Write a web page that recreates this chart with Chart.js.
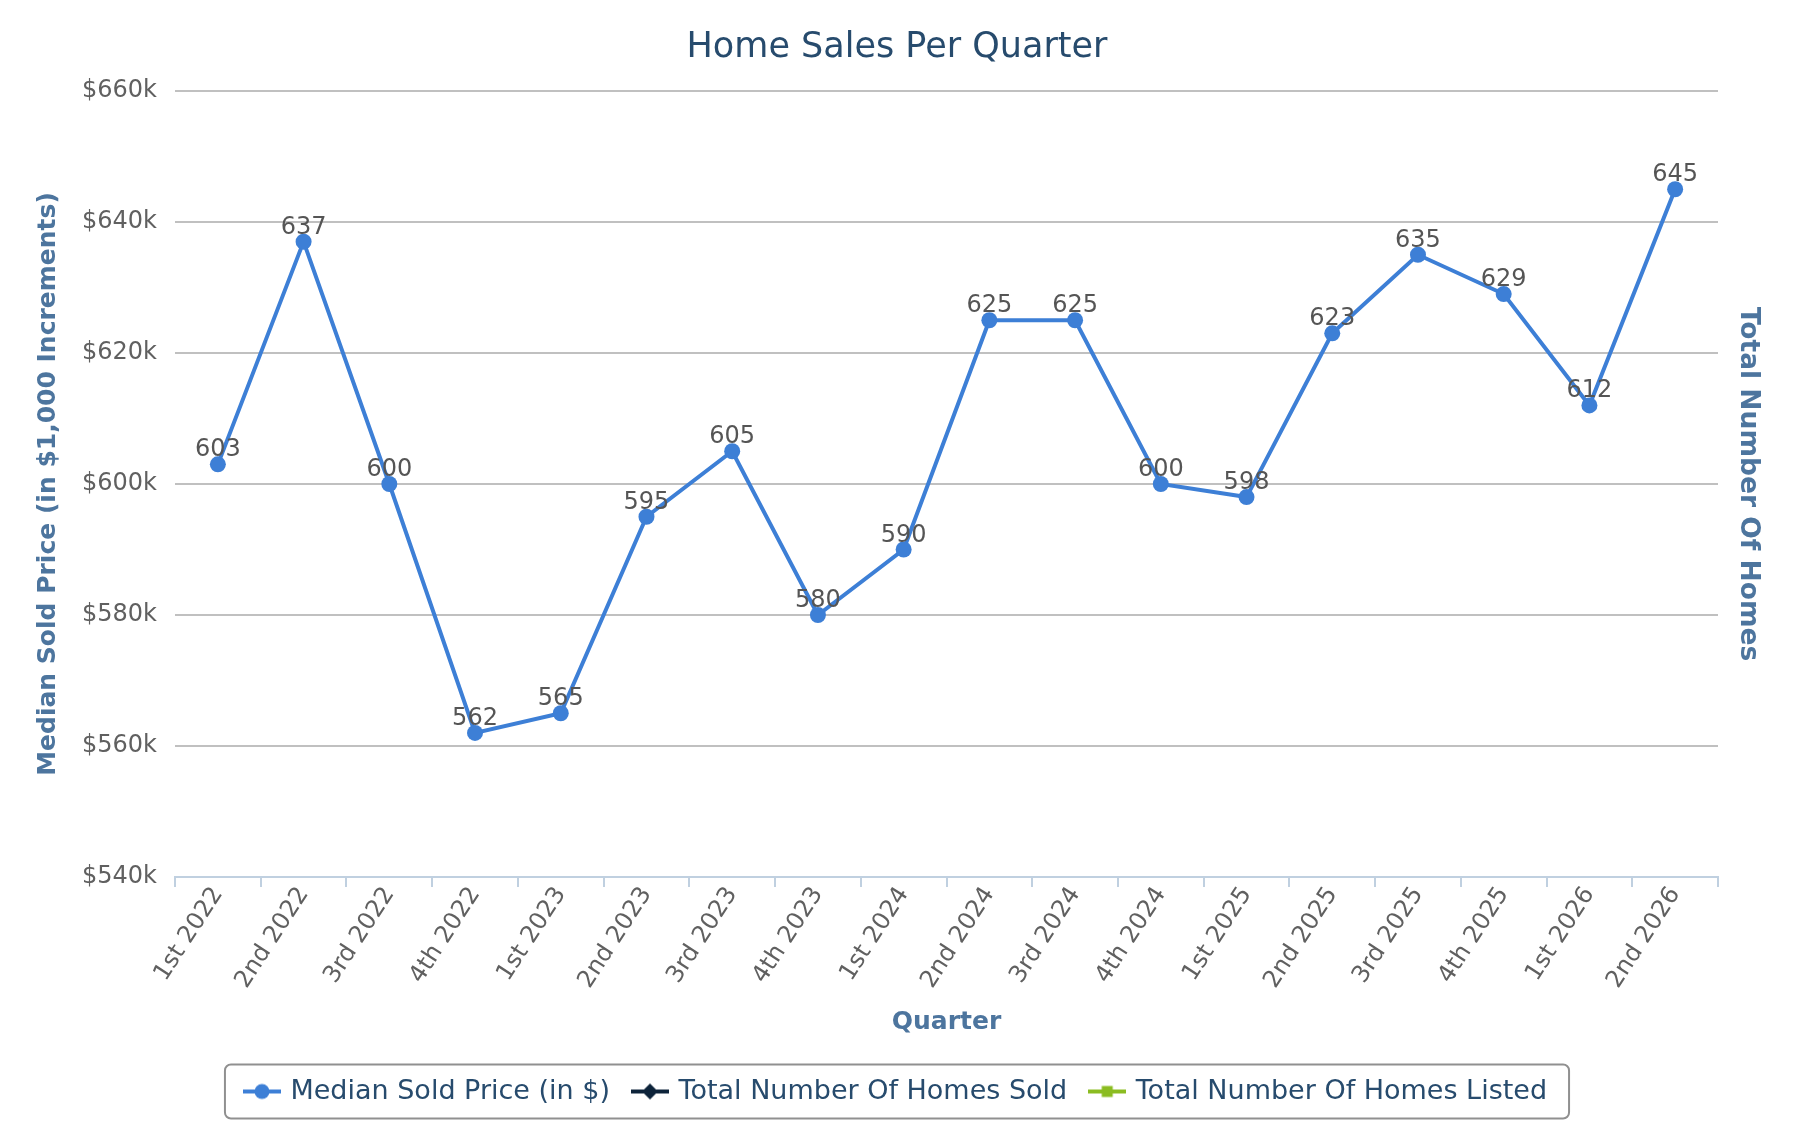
<!DOCTYPE html>
<html lang="en">
<head>
    <meta charset="UTF-8">
    <title>Home Sales Per Quarter</title>
    <script src="https://cdn.jsdelivr.net/npm/chart.js"></script>
    <style>
        body { margin: 0; background: #fff; }
        #wrap { width: 1794px; height: 1146px; }
    </style>
</head>
<body>
    <div id="wrap"><canvas id="salesChart"></canvas></div>

    <script>
        // quarters on the x axis
        const quarters = [
            "1st 2022", "2nd 2022", "3rd 2022", "4th 2022",
            "1st 2023", "2nd 2023", "3rd 2023", "4th 2023",
            "1st 2024", "2nd 2024", "3rd 2024", "4th 2024",
            "1st 2025", "2nd 2025", "3rd 2025", "4th 2025",
            "1st 2026", "2nd 2026"
        ];

        // median sold price, in $1,000
        const medianPrice = [603, 637, 600, 562, 565, 595, 605, 580, 590, 625, 625, 600, 598, 623, 635, 629, 612, 645];

        // these two have no points in the chart, only legend entries
        const homesSold = [];
        const homesListed = [];

        const priceTicks = { min: 540, max: 660, step: 20 };

        const FONT = "'DejaVu Sans', sans-serif";
        const BLUE = "#3d7fd6";
        const NAVY = "#0d233a";
        const GREEN = "#8bbc21";

        // small canvas used as legend symbol: line with a marker in the middle
        function legendSymbol(color, shape) {
            const c = document.createElement("canvas");
            c.width = 38; c.height = 20;
            const g = c.getContext("2d");
            g.strokeStyle = color;
            g.fillStyle = color;
            g.lineWidth = 4;
            g.beginPath();
            g.moveTo(0, 10); g.lineTo(38, 10);
            g.stroke();
            g.beginPath();
            if (shape === "circle") {
                g.arc(19, 10, 7.5, 0, Math.PI * 2);
            } else if (shape === "diamond") {
                g.moveTo(19, 2); g.lineTo(27, 10); g.lineTo(19, 18); g.lineTo(11, 10);
                g.closePath();
            } else {
                g.rect(13.5, 4.5, 11, 11);
            }
            g.fill();
            return c;
        }

        // value labels above each point
        const pointLabels = {
            id: "pointLabels",
            afterDatasetsDraw(chart) {
                const ctx = chart.ctx;
                const meta = chart.getDatasetMeta(0);
                ctx.save();
                ctx.font = "24px " + FONT;
                ctx.fillStyle = "#555555";
                ctx.textAlign = "center";
                ctx.textBaseline = "alphabetic";
                meta.data.forEach((pt, i) => {
                    ctx.fillText(String(medianPrice[i]), pt.x, pt.y - 8);
                });
                ctx.restore();
            }
        };

        // rounded frame around the legend
        const legendFrame = {
            id: "legendFrame",
            afterDraw(chart) {
                const boxes = chart.legend.legendHitBoxes;
                if (!boxes || !boxes.length) return;
                let left = Infinity, right = -Infinity;
                boxes.forEach(b => {
                    left = Math.min(left, b.left);
                    right = Math.max(right, b.left + b.width);
                });
                const cy = boxes[0].top + boxes[0].height / 2;
                const ctx = chart.ctx;
                ctx.save();
                ctx.strokeStyle = "#909090";
                ctx.lineWidth = 2;
                ctx.beginPath();
                ctx.roundRect(left - 22, cy - 27, right - left + 44, 54, 6);
                ctx.stroke();
                ctx.restore();
            }
        };

        const data = {
            labels: quarters,
            datasets: [
                {
                    label: "Median Sold Price (in $)",
                    data: medianPrice,
                    borderColor: BLUE,
                    backgroundColor: BLUE,
                    borderWidth: 4,
                    pointRadius: 8,
                    pointHoverRadius: 8,
                    pointBorderWidth: 0,
                    tension: 0,
                    yAxisID: "y"
                },
                {
                    label: "Total Number Of Homes Sold",
                    data: homesSold,
                    borderColor: NAVY,
                    backgroundColor: NAVY,
                    yAxisID: "y1"
                },
                {
                    label: "Total Number Of Homes Listed",
                    data: homesListed,
                    borderColor: GREEN,
                    backgroundColor: GREEN,
                    yAxisID: "y1"
                }
            ]
        };

        const symbols = [legendSymbol(BLUE, "circle"), legendSymbol(NAVY, "diamond"), legendSymbol(GREEN, "square")];

        const config = {
            type: "line",
            data: data,
            options: {
                responsive: true,
                maintainAspectRatio: false,
                animation: false,
                layout: { padding: { top: 0, left: 0, right: 0, bottom: 31 } },
                scales: {
                    x: {
                        offset: true,
                        grid: {
                            offset: true,
                            drawOnChartArea: false,
                            drawTicks: true,
                            tickLength: 10,
                            tickColor: "#c0d0e0",
                            lineWidth: 2
                        },
                        border: { color: "#c0d0e0", width: 2 },
                        ticks: {
                            font: { family: FONT, size: 24 },
                            color: "#606060",
                            minRotation: 57,
                            maxRotation: 57,
                            padding: -5,
                            autoSkip: false
                        },
                        title: {
                            display: true,
                            text: "Quarter",
                            color: "#4d759e",
                            font: { family: FONT, size: 25, weight: "bold" },
                            padding: { top: 0, bottom: 16 }
                        },
                        afterFit(scale) { scale.height = 176; }
                    },
                    y: {
                        position: "left",
                        min: priceTicks.min,
                        max: priceTicks.max,
                        grid: { color: "#c0c0c0", lineWidth: 2, drawTicks: false },
                        border: { display: false },
                        ticks: {
                            stepSize: priceTicks.step,
                            font: { family: FONT, size: 24 },
                            color: "#606060",
                            padding: 18,
                            callback: v => "$" + v + "k"
                        },
                        title: {
                            display: true,
                            text: "Median Sold Price (in $1,000 Increments)",
                            color: "#4d759e",
                            font: { family: FONT, size: 25, weight: "bold" },
                            padding: { top: 33, bottom: 0 }
                        },
                        afterFit(scale) { scale.width = 175; }
                    },
                    y1: {
                        position: "right",
                        grid: { display: false },
                        border: { display: false },
                        ticks: { display: false },
                        title: {
                            display: true,
                            text: "Total Number Of Homes",
                            color: "#4d759e",
                            font: { family: FONT, size: 26.5, weight: "bold" },
                            padding: { top: 30, bottom: 0 }
                        },
                        afterFit(scale) { scale.width = 76; }
                    }
                },
                plugins: {
                    title: {
                        display: true,
                        text: "Home Sales Per Quarter",
                        color: "#274b6d",
                        font: { family: FONT, size: 35, weight: "normal" },
                        padding: { top: 27, bottom: 22 }
                    },
                    legend: {
                        position: "bottom",
                        labels: {
                            usePointStyle: true,
                            pointStyleWidth: 30,
                            padding: 25,
                            color: "#274b6d",
                            font: { family: FONT, size: 27 },
                            generateLabels(chart) {
                                return chart.data.datasets.map((ds, i) => ({
                                    text: ds.label,
                                    pointStyle: symbols[i],
                                    fontColor: "#274b6d",
                                    hidden: false,
                                    datasetIndex: i,
                                    lineWidth: 0,
                                    strokeStyle: "transparent",
                                    fillStyle: "transparent"
                                }));
                            }
                        }
                    },
                    tooltip: { enabled: false }
                }
            },
            plugins: [pointLabels, legendFrame]
        };

        new Chart(document.getElementById("salesChart"), config);
    </script>
</body>
</html>
